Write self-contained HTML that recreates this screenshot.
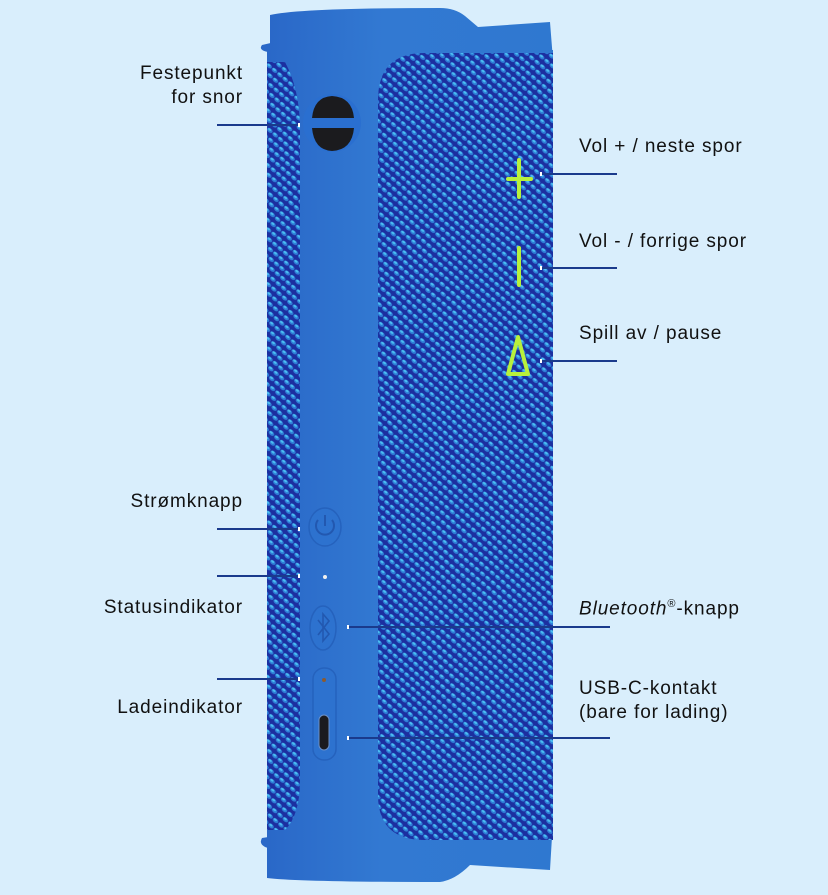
<!DOCTYPE html>
<html><head><meta charset="utf-8">
<style>
html,body{margin:0;padding:0;}
body{width:828px;height:895px;background:#d9eefc;position:relative;overflow:hidden;font-family:"Liberation Sans",sans-serif;}
.t{position:absolute;font-size:19px;letter-spacing:0.9px;color:#111;line-height:24px;white-space:nowrap;}
.r{text-align:right;}
</style></head><body>
<svg width="828" height="895" style="position:absolute;left:0;top:0">
<defs>
<pattern id="mesh" width="7" height="7" patternUnits="userSpaceOnUse" patternTransform="rotate(40)">
<rect width="7" height="7" fill="#1c2fa0"/>
<ellipse cx="3.5" cy="3.5" rx="3.2" ry="2" fill="#2f7fd8"/>
<ellipse cx="2.8" cy="2.9" rx="1.8" ry="1" fill="#4cc0f2"/>
</pattern>
<linearGradient id="body" x1="0" x2="1">
<stop offset="0" stop-color="#2a68c8"/><stop offset="0.4" stop-color="#3279d2"/><stop offset="1" stop-color="#2f78d0"/>
</linearGradient>
</defs>
<path d="M262,45 Q258,50 268,52 L275,50 L275,42 Z" fill="#2a68c8"/>
<path d="M262,838 Q258,845 268,848 L275,846 L275,836 Z" fill="#2a68c8"/>
<path d="M270,15 Q300,8 440,8 Q455,8 465,16 L478,27 L550,22 L553,60 L270,60 Z" fill="url(#body)"/>
<path d="M267,820 L553,820 L550,870 L470,865 Q455,880 440,882 Q300,882 267,878 Z" fill="url(#body)"/>
<rect x="267" y="50" width="286" height="790" fill="url(#body)"/>
<path d="M267,62 L285,62 Q300,90 300,130 L300,780 Q300,815 285,830 L267,830 Z" fill="url(#mesh)"/>
<path d="M425,53 L553,53 L553,840 L425,840 Q378,840 378,795 L378,100 Q378,53 425,53 Z" fill="url(#mesh)"/>
<circle cx="332" cy="123" r="29" fill="#2a6fd0"/>
<path d="M312,118 Q314,97 332,96 Q352,97 354,118 Z" fill="#1b1b1e"/>
<path d="M312,128 Q314,150 332,151 Q352,150 354,128 Z" fill="#1b1b1e"/>
<ellipse cx="325" cy="527" rx="16" ry="19" fill="#2d72cf" stroke="#2562bd" stroke-width="1.5"/>
<path d="M318,520 A9,9 0 1 0 332,520" fill="none" stroke="#2258b0" stroke-width="2"/>
<line x1="325" y1="515" x2="325" y2="526" stroke="#2258b0" stroke-width="2"/>
<circle cx="325" cy="577" r="2" fill="#f0f0f0"/>
<ellipse cx="323" cy="628" rx="13" ry="22" fill="#2d72cf" stroke="#2562bd" stroke-width="1.5"/>
<path d="M318,620 L329,634 L323,641 L323,614 L329,621 L318,635" fill="none" stroke="#2258b0" stroke-width="1.6"/>
<rect x="313" y="668" width="23" height="92" rx="11" fill="#2d72cf" stroke="#2562bd" stroke-width="1.5"/>
<circle cx="324" cy="680" r="2" fill="#8a5a30"/>
<rect x="319" y="715" width="10" height="35" rx="5" fill="#1b1b1e" stroke="#6a90c8" stroke-width="1"/>
<g stroke="#b8f03c" stroke-width="4" stroke-linecap="round" fill="none">
<line x1="519" y1="160" x2="519" y2="197"/><line x1="508" y1="179" x2="531" y2="179"/>
<line x1="519" y1="248" x2="519" y2="285"/>
<path d="M518,337 L508,374 L528,374 Z" stroke-linejoin="round"/>
</g>
<g stroke="#1a3a8c" stroke-width="2">
<line x1="217" y1="125" x2="300" y2="125"/>
<line x1="540" y1="174" x2="617" y2="174"/>
<line x1="540" y1="268" x2="617" y2="268"/>
<line x1="540" y1="361" x2="617" y2="361"/>
<line x1="217" y1="529" x2="300" y2="529"/>
<line x1="217" y1="576" x2="300" y2="576"/>
<line x1="347" y1="627" x2="610" y2="627"/>
<line x1="217" y1="679" x2="300" y2="679"/>
<line x1="347" y1="738" x2="610" y2="738"/>
</g>
<g fill="#ffffff">
<rect x="298" y="123" width="2" height="4"/><rect x="540" y="172" width="2" height="4"/>
<rect x="540" y="266" width="2" height="4"/><rect x="540" y="359" width="2" height="4"/>
<rect x="298" y="527" width="2" height="4"/><rect x="298" y="574" width="2" height="4"/>
<rect x="347" y="625" width="2" height="4"/><rect x="298" y="677" width="2" height="4"/>
<rect x="347" y="736" width="2" height="4"/>
</g>
</svg>
<div class="t r" style="right:585px;top:62px">Festepunkt<br>for snor</div>
<div class="t" style="left:579px;top:135px">Vol + / neste spor</div>
<div class="t" style="left:579px;top:230px">Vol - / forrige spor</div>
<div class="t" style="left:579px;top:322px">Spill av / pause</div>
<div class="t r" style="right:585px;top:490px">Strømknapp</div>
<div class="t r" style="right:585px;top:596px">Statusindikator</div>
<div class="t" style="left:579px;top:592px"><i>Bluetooth</i><sup style="font-size:11px">®</sup>-knapp</div>
<div class="t r" style="right:585px;top:696px">Ladeindikator</div>
<div class="t" style="left:579px;top:677px">USB-C-kontakt<br>(bare for lading)</div>
</body></html>
